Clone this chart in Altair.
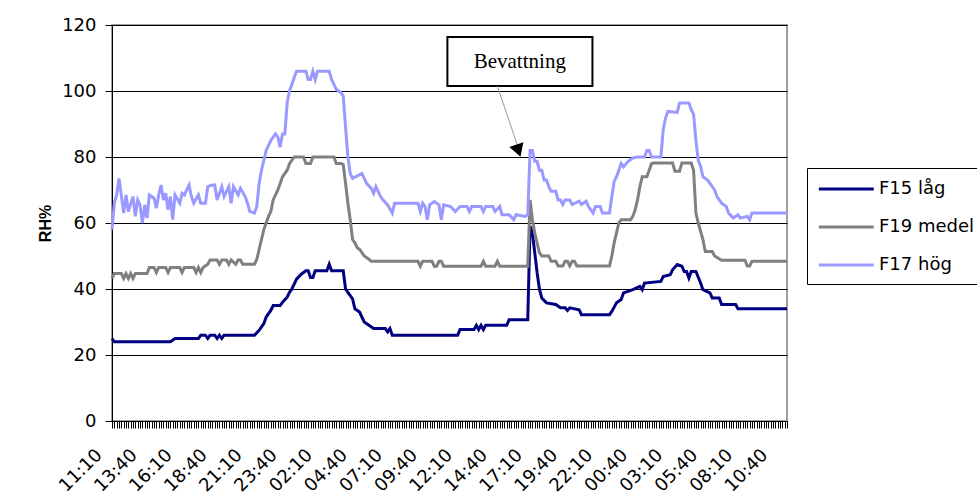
import json
import altair as alt
import pandas as pd

# ---------------- data ----------------
x_labels = ["11:10", "13:40", "16:10", "18:40", "21:10", "23:40", "02:10", "04:40",
            "07:10", "09:40", "12:10", "14:40", "17:10", "19:40", "22:10", "00:40",
            "03:10", "05:40", "08:10", "10:40"]
n_steps = 290  # 10-minute steps from 11:10

series_names = ["F15 låg", "F19 medel", "F17 hög"]
series_colors = ["#000080", "#808080", "#9999FF"]

f15_idx = [0, 1, 25, 27, 37, 38, 40, 41, 42, 44, 45, 46, 47, 48, 61, 63, 65, 66, 68, 69, 72, 73,
           75, 76, 77, 78, 79, 81, 83, 84, 85, 86, 87, 92, 93, 94, 99, 100, 101, 103, 104, 106,
           107, 108, 110, 112, 117, 118, 119, 120, 148, 149, 155, 156, 157, 158, 159, 160, 169,
           170, 178, 179, 180, 181, 182, 183, 184, 186, 190, 192, 194, 195, 196, 200, 201, 213,
           214, 215, 216, 218, 219, 223, 226, 227, 228, 235, 236, 239, 240, 242, 244, 245, 246,
           247, 248, 250, 252, 253, 256, 257, 260, 261, 267, 268, 289]
f15_val = [25, 24, 24, 25, 25, 26, 26, 25, 26, 26, 25, 26, 25, 26, 26, 27.5, 29.5, 31.5, 33.5, 35,
           35, 36, 37.5, 39, 40, 41.5, 43, 44.5, 45.5, 45.5, 43.5, 43.5, 45.5, 45.5, 47.5, 45.5,
           45.5, 40, 39, 37, 34, 33, 31.5, 30, 29, 28, 28, 27, 28, 26, 26, 27.7, 27.7, 29, 27.7,
           29, 27.7, 29, 29, 30.7, 30.7, 59, 57, 51, 45, 40, 37.3, 35.8, 35.3, 34.3, 34.3, 33.5,
           34.3, 33.7, 32.2, 32.2, 33.2, 34.5, 35.8, 36.8, 38.8, 39.8, 40.8, 39.8, 41.8, 42.3,
           43.8, 44.3, 45.8, 47.4, 46.9, 45.3, 45.3, 43.3, 45.3, 45.3, 41.8, 39.8, 38.8, 37.3,
           37.3, 35.3, 35.3, 34, 34]

f19_idx = [0, 1, 4, 5, 6, 7, 8, 9, 10, 15, 16, 18, 19, 20, 23, 24, 25, 29, 30, 31, 35, 36, 37, 38,
           39, 41, 42, 45, 46, 47, 49, 50, 51, 53, 54, 55, 56, 61, 62, 63, 64, 65, 67, 68, 69, 71,
           72, 73, 75, 76, 78, 82, 83, 85, 86, 95, 96, 98, 99, 100, 101, 102, 103, 104, 105, 106,
           107, 108, 110, 111, 131, 132, 133, 137, 138, 139, 140, 141, 142, 158, 159, 160, 164,
           165, 166, 178, 179, 180, 181, 182, 183, 184, 187, 188, 190, 191, 193, 194, 195, 196,
           197, 198, 199, 213, 214, 215, 216, 217, 218, 222, 223, 224, 225, 226, 227, 229, 230,
           231, 232, 240, 241, 243, 244, 248, 249, 250, 251, 253, 254, 257, 258, 261, 271, 272,
           273, 274, 289]
f19_val = [43.2, 44.7, 44.7, 43.2, 44.7, 43.2, 44.7, 43.2, 44.7, 44.7, 46.5, 46.5, 45, 46.5, 46.5,
           45, 46.5, 46.5, 45, 46.5, 46.5, 45, 46.5, 45, 46.5, 47.5, 48.8, 48.8, 47.5, 48.8, 48.8,
           47.5, 48.8, 47.5, 48.8, 48.8, 47.5, 47.5, 49, 52, 55, 58, 62, 63.5, 67, 70, 72, 74, 76,
           78, 80, 80, 78, 78, 80, 80, 78, 78, 77.7, 72, 66, 61, 55, 54, 52.5, 52, 51, 50, 49,
           48.4, 48.4, 46.9, 48.4, 48.4, 46.9, 46.9, 48.4, 48.4, 46.9, 46.9, 48.4, 46.9, 46.9,
           48.4, 46.9, 46.9, 67, 61, 57, 54, 51, 50, 50, 48.4, 48.4, 47, 47, 48.4, 48.4, 47,
           48.4, 48.4, 47, 47, 50, 54, 57, 60, 61, 61, 62, 64, 67, 71, 74, 74, 76, 78, 78.2, 78.2,
           75.7, 75.7, 78.2, 78.2, 76, 63, 60, 55, 51.4, 51.4, 50, 48.7, 48.7, 47, 47, 48.4, 48.4]

f17_idx = [0, 1, 2, 3, 5, 6, 7, 9, 10, 11, 12, 13, 14, 15, 16, 18, 19, 20, 21, 22, 23, 24, 25, 26,
           27, 29, 30, 31, 33, 34, 35, 37, 38, 40, 41, 43, 44, 45, 47, 48, 50, 51, 52, 54, 55, 57,
           58, 59, 61, 62, 63, 64, 65, 66, 68, 69, 70, 71, 72, 73, 74, 75, 76, 77, 78, 79, 83, 84,
           85, 86, 87, 88, 93, 94, 95, 96, 98, 99, 100, 101, 102, 103, 107, 108, 109, 111, 112,
           113, 115, 116, 118, 120, 121, 131, 132, 133, 134, 135, 136, 138, 140, 141, 142, 145,
           147, 149, 152, 153, 154, 158, 159, 160, 163, 164, 166, 167, 170, 172, 173, 177, 178,
           179, 180, 181, 182, 183, 184, 185, 186, 187, 188, 190, 191, 192, 193, 194, 196, 197,
           200, 201, 203, 204, 206, 207, 209, 210, 213, 214, 215, 216, 218, 219, 221, 223, 225,
           228, 229, 230, 231, 235, 236, 237, 238, 242, 243, 247, 248, 249, 250, 251, 252, 253,
           255, 256, 258, 259, 261, 263, 264, 266, 268, 269, 272, 273, 274, 289]
f17_val = [58, 66, 68.5, 73.5, 63, 68.5, 63.5, 68, 62, 67, 65.5, 60, 65.5, 61.5, 68.5, 67.5, 64.5,
           68.5, 71.5, 67, 69, 64, 68, 61, 68.5, 66, 69, 68.5, 71.5, 68, 66, 68.5, 66, 66, 71,
           71.5, 71.5, 67, 71, 68, 71, 66, 71, 68.5, 70.5, 68, 66, 63.5, 63, 65, 72, 76, 79, 82,
           85, 86, 87, 86, 83, 87, 87, 96.5, 100, 102, 104, 106, 106, 103.5, 103.5, 106, 103.5,
           106, 106, 103.5, 102, 100.5, 99.5, 98.5, 89, 80, 75, 73.5, 75, 73.5, 72, 70.5, 69, 71,
           68, 67, 65.5, 63, 66, 66, 63.5, 66, 65, 61, 65.5, 66.5, 65.5, 61, 65.5, 65, 63.5, 65,
           65, 63.5, 65, 65, 63.5, 65, 65, 63.5, 65, 62.5, 62.5, 61, 62.5, 62, 62.5, 82, 82, 78.7,
           78.7, 76, 76, 73, 73, 71, 69.6, 69.6, 67, 67, 65.6, 67, 67, 65.6, 66.6, 65.6, 66.6, 65,
           63, 65, 65, 63, 63, 68, 72.6, 74, 78, 77, 78.7, 79.7, 80, 80, 82, 82, 80, 80, 88.3,
           91.8, 93.8, 93.5, 96.4, 96.4, 94.3, 93, 85, 79, 77.2, 74, 73, 72, 70, 68, 66, 65, 63,
           61.5, 62.5, 61.5, 62, 61, 63, 63]

# annotation "Bevattning" (in data coordinates)
note_text = ["Bevattning"]
note_box_t = [143.6, 205.7]
note_box_rh = [101.5, 116.4]
note_text_pos = [174.6, 108.8]
note_leader_t = [165.0, 173.6]
note_leader_rh = [101.5, 83.5]
note_head_pos = [174.0, 81.9]

# ---------------- tables ----------------
rows = []
for name, idxs, vals in zip(series_names, [f15_idx, f19_idx, f17_idx], [f15_val, f19_val, f17_val]):
    for i, v in zip(idxs, vals):
        rows.append({"t": i, "rh": v, "serie": name})
df = pd.DataFrame(rows)

box_df = pd.DataFrame([{"t1": note_box_t[0], "t2": note_box_t[1], "r1": note_box_rh[0], "r2": note_box_rh[1]}])
text_df = pd.DataFrame([{"t": note_text_pos[0], "rh": note_text_pos[1], "txt": note_text[0]}])
lead_df = pd.DataFrame([{"t1": note_leader_t[0], "t2": note_leader_t[1], "r1": note_leader_rh[0], "r2": note_leader_rh[1]}])
head_df = pd.DataFrame([{"t": note_head_pos[0], "rh": note_head_pos[1]}])

FONT = "DejaVu Sans"
label_expr = "datum.value % 15 == 0 ? " + json.dumps(x_labels) + "[round(datum.value / 15)] : ''"

x_scale = alt.Scale(domain=[0, n_steps - 1], nice=False, zero=False)
y_scale = alt.Scale(domain=[0, 120], nice=False)

x_axis = alt.Axis(values=list(range(n_steps)), tickCount=n_steps + 10, labelExpr=label_expr,
                  labelAngle=315, labelAlign="right", labelBaseline="middle", labelPadding=24,
                  labelOffset=-13, labelFont=FONT, labelFontSize=18, labelColor="black",
                  labelOverlap=False, labelFlush=False, labelBound=False, tickSize=7,
                  tickColor="black", tickWidth=1, domainColor="black", domainWidth=1,
                  grid=False, title=None)
y_axis = alt.Axis(values=[0, 20, 40, 60, 80, 100, 120], labelFont=FONT, labelFontSize=18,
                  labelColor="black", labelPadding=9, tickSize=7, tickColor="black",
                  domainColor="black", grid=True, gridColor="black", gridWidth=1,
                  title="RH%", titleFont="Liberation Sans", titleFontSize=16,
                  titleFontWeight="bold", titleColor="black", titleAngle=270, titleX=-67,
                  titleY=198, titleAlign="center", titleBaseline="middle")

lines = alt.Chart(df).mark_line(strokeWidth=3).encode(
    x=alt.X("t:Q", scale=x_scale, axis=x_axis),
    y=alt.Y("rh:Q", scale=y_scale, axis=y_axis),
    color=alt.Color("serie:N", sort=series_names,
                    scale=alt.Scale(domain=series_names, range=series_colors),
                    legend=alt.Legend(title=None, orient="none", legendX=695, legendY=143,
                                      direction="vertical", symbolType="M-1,0H5",
                                      symbolSize=335, symbolStrokeWidth=3,
                                      labelFont=FONT, labelFontSize=18, labelColor="black",
                                      labelOffset=40, rowPadding=18, padding=10,
                                      strokeColor="black", fillColor="white")),
)

box = alt.Chart(box_df).mark_rect(fill="white", stroke="black", strokeWidth=2).encode(
    x=alt.X("t1:Q", scale=x_scale), x2="t2:Q",
    y=alt.Y("r1:Q", scale=y_scale), y2="r2:Q")
txt = alt.Chart(text_df).mark_text(font="Liberation Serif", fontSize=21, color="black").encode(
    x=alt.X("t:Q", scale=x_scale), y=alt.Y("rh:Q", scale=y_scale), text="txt:N")
lead = alt.Chart(lead_df).mark_rule(color="#9a9a9a", strokeWidth=1).encode(
    x=alt.X("t1:Q", scale=x_scale), x2="t2:Q",
    y=alt.Y("r1:Q", scale=y_scale), y2="r2:Q")
head = alt.Chart(head_df).mark_point(shape="triangle-down", filled=True, size=220, angle=341,
                                     color="black", opacity=1).encode(
    x=alt.X("t:Q", scale=x_scale), y=alt.Y("rh:Q", scale=y_scale))

chart = alt.layer(lines, box, txt, lead, head).properties(
    width=675, height=396,
    autosize=alt.AutoSizeParams(type="none"),
    padding={"left": 112, "top": 25, "right": 190, "bottom": 74},
    background="white",
).configure_view(stroke="#808080", strokeWidth=1.5)

chart.save("out.html", embed_options={"renderer": "svg", "actions": False})
